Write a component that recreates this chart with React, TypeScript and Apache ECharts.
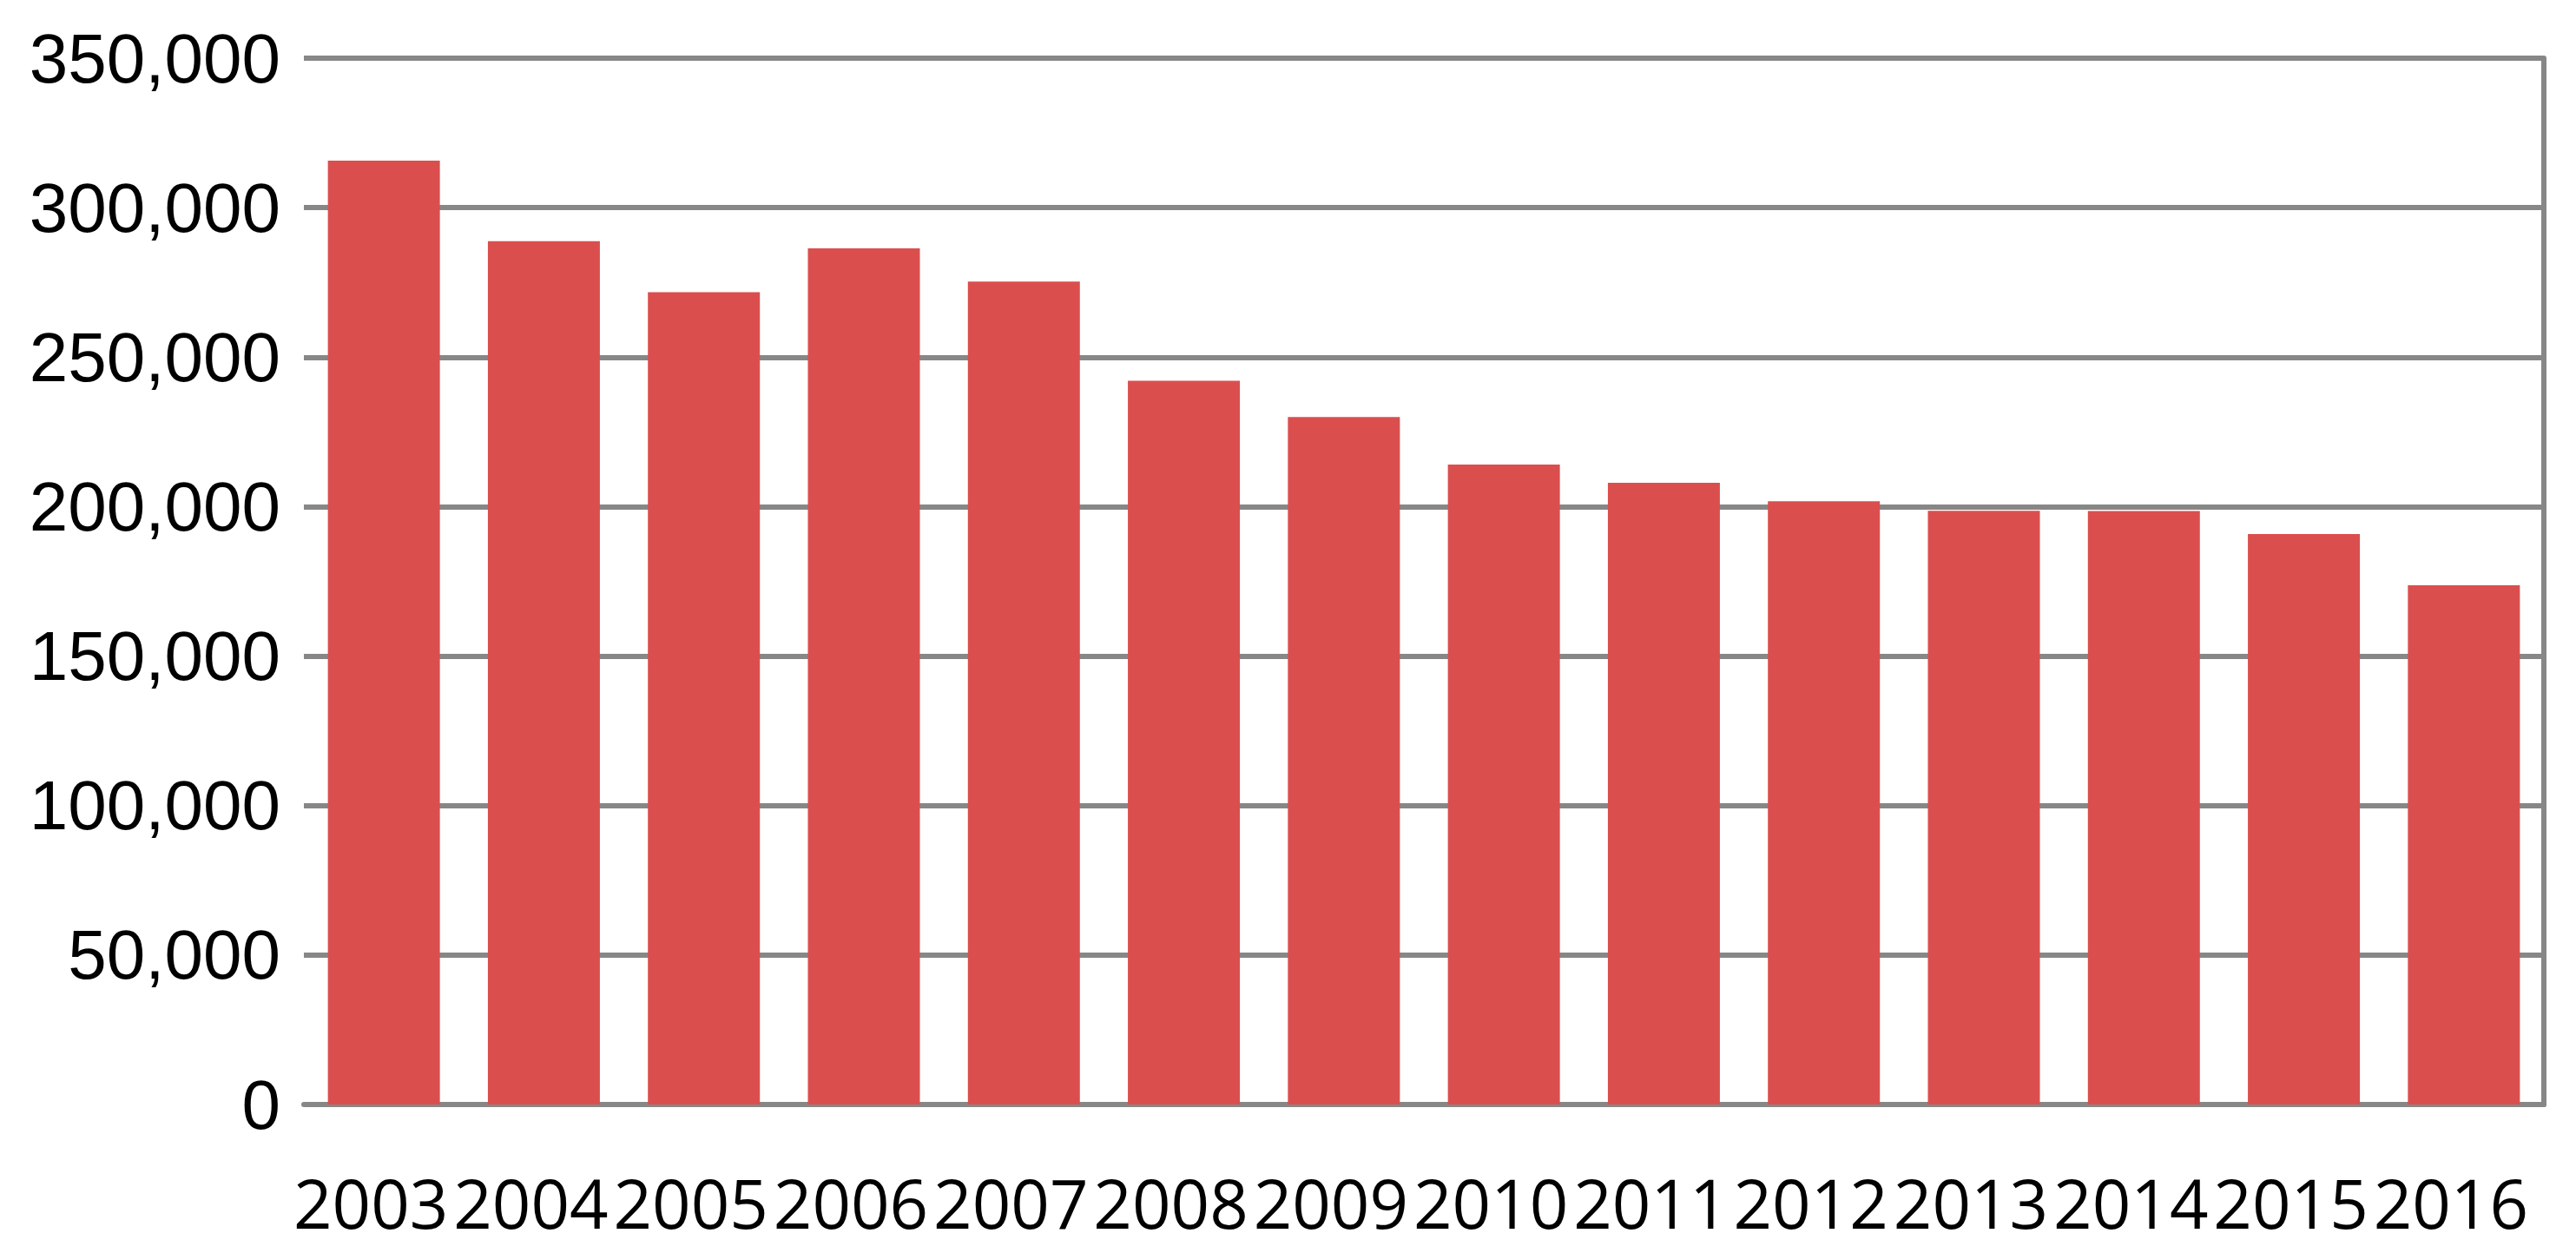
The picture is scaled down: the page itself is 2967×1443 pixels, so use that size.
import React, { useEffect, useRef } from "react";
import * as echarts from "echarts";

const years: string[] = [
  "2003", "2004", "2005", "2006", "2007", "2008", "2009",
  "2010", "2011", "2012", "2013", "2014", "2015", "2016",
];
const values: number[] = [
  315700, 288800, 271700, 286400, 275300, 242100, 230000,
  214100, 208000, 201800, 198600, 198500, 190800, 173700,
];
const yMin = 0;
const yMax = 350000;
const yStep = 50000;

export default function App() {
  const ref = useRef<HTMLDivElement>(null);
  useEffect(() => {
    if (!ref.current) return;
    const chart = echarts.init(ref.current, null, { renderer: "svg" });
    const gridColor = "#878787";
    chart.setOption({
      animation: false,
      backgroundColor: "#ffffff",
      grid: { left: 350, right: 37, top: 67, bottom: 171, containLabel: false },
      xAxis: {
        type: "category",
        data: years,
        axisLine: { show: true, lineStyle: { color: gridColor, width: 6 } },
        axisTick: { show: false },
        axisLabel: {
          interval: 0,
          color: "#000000",
          fontFamily: "'Open Sans', sans-serif",
          fontSize: 78,
          margin: 74,
          padding: [0, 30, 0, 0],
        },
      },
      yAxis: [
        {
          type: "value",
          min: yMin,
          max: yMax,
          interval: yStep,
          axisLine: { show: false },
          axisTick: { show: false },
          splitLine: { show: true, lineStyle: { color: gridColor, width: 6 } },
          axisLabel: {
            color: "#000000",
            fontFamily: "'Liberation Sans', Arial, sans-serif",
            fontSize: 80,
            margin: 27,
            formatter: (v: number) => v.toLocaleString("en-US"),
          },
        },
        {
          type: "value",
          position: "right",
          min: yMin,
          max: yMax,
          interval: yStep,
          axisLine: { show: true, lineStyle: { color: gridColor, width: 6 } },
          axisTick: { show: false },
          splitLine: { show: false },
          axisLabel: { show: false },
        },
      ],
      series: [
        {
          type: "bar",
          data: values,
          yAxisIndex: 0,
          barCategoryGap: "30%",
          itemStyle: { color: "#DA4F4E" },
        },
      ],
    });
    return () => chart.dispose();
  }, []);
  return (
    <div
      ref={ref}
      style={{ position: "fixed", left: 0, top: 0, width: "2967px", height: "1443px" }}
    />
  );
}
